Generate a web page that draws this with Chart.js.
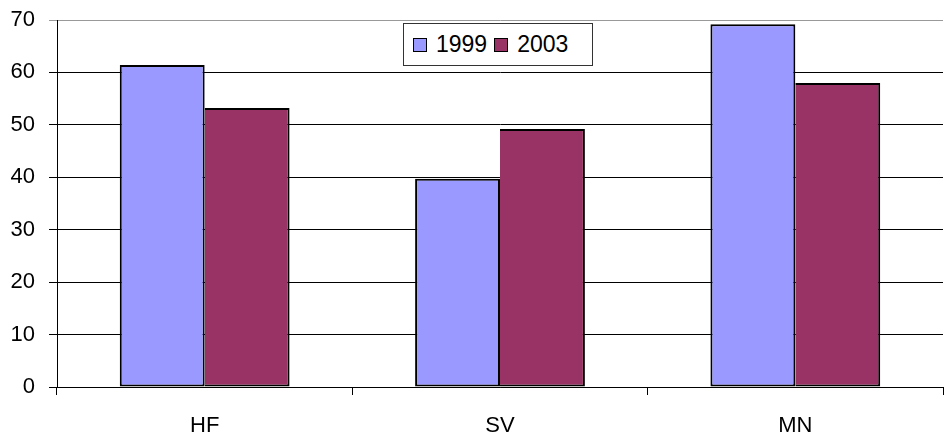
<!DOCTYPE html>
<html>
<head>
<meta charset="utf-8">
<script src="https://cdn.jsdelivr.net/npm/chart.js@4/dist/chart.umd.min.js"></script>
<style>
  html, body { margin: 0; padding: 0; background: #fff; }
  #wrap { position: relative; width: 944px; height: 434px; }
  #legend {
    position: absolute; left: 403px; top: 23px; width: 179px; height: 41px;
    border: 1px solid #333; background: #fff;
    font-family: "Liberation Sans", Arial, sans-serif; font-size: 23px; color: #000;
    display: flex; align-items: center; padding-left: 9px; box-sizing: content-box;
  }
  #legend .item { display: flex; align-items: center; margin-right: 7px; }
  #legend .sw { width: 12px; height: 12px; border: 1px solid #000; margin-right: 9px; }
</style>
</head>
<body>
<div id="wrap">
  <canvas id="chart" width="944" height="434"></canvas>
  <div id="legend"></div>
</div>
<script>
const categories = ['HF', 'SV', 'MN'];
const series_names = ['1999', '2003'];
const values_1999 = [61.4, 39.7, 69.2];
const values_2003 = [53.2, 49.2, 58.0];
const y_ticks = [0, 10, 20, 30, 40, 50, 60, 70];
const colors = ['#9999FF', '#993366'];

const font = { family: '"Liberation Sans", Arial, sans-serif', size: 22 };

var ctx = document.getElementById('chart').getContext('2d');
var chart = new Chart(ctx, {
    type: 'bar',
    data: {
        labels: categories,
        datasets: [
            { label: series_names[0], data: values_1999, backgroundColor: colors[0], borderSkipped: false },
            // left edge shares the 1999 bar's right border
            { label: series_names[1], data: values_2003, backgroundColor: colors[1], borderSkipped: 'left' }
        ]
    },
    options: {
        responsive: false,
        animation: false,
        devicePixelRatio: 1,
        layout: { padding: { top: 20, right: 1, left: 0, bottom: 0 } },
        datasets: {
            bar: {
                borderColor: '#000',
                borderWidth: 2,
                categoryPercentage: 0.575,
                barPercentage: 1.0
            }
        },
        plugins: {
            legend: { display: false },
            tooltip: { enabled: false }
        },
        scales: {
            x: {
                afterFit: (scale) => { scale.height = 47; scale.paddingLeft = 0; scale.paddingRight = 0; },
                grid: {
                    drawOnChartArea: false,
                    drawTicks: true,
                    tickLength: 8,
                    color: '#000',
                    offset: true
                },
                border: { color: '#000', width: 1 },
                ticks: { color: '#000', font: font, padding: 18 }
            },
            y: {
                min: 0,
                max: 70,
                afterFit: (scale) => { scale.width = 57; scale.paddingTop = 0; scale.paddingBottom = 0; },
                afterBuildTicks: (scale) => { scale.ticks = y_ticks.map(v => ({ value: v })); },
                grid: {
                    color: (c) => c.tick && c.tick.value === 70 ? '#999' : '#000',
                    lineWidth: 1,
                    tickLength: 8,
                    drawTicks: true
                },
                border: { color: '#000', width: 1 },
                ticks: { color: '#000', font: font, padding: 14 }
            }
        }
    }
});

// legend box inside the plot area
var legend = document.getElementById('legend');
chart.data.datasets.forEach(ds => {
    var item = document.createElement('div');
    item.className = 'item';
    item.innerHTML = '<div class="sw" style="background:' + ds.backgroundColor + '"></div><span>' + ds.label + '</span>';
    legend.appendChild(item);
});
</script>
</body>
</html>
